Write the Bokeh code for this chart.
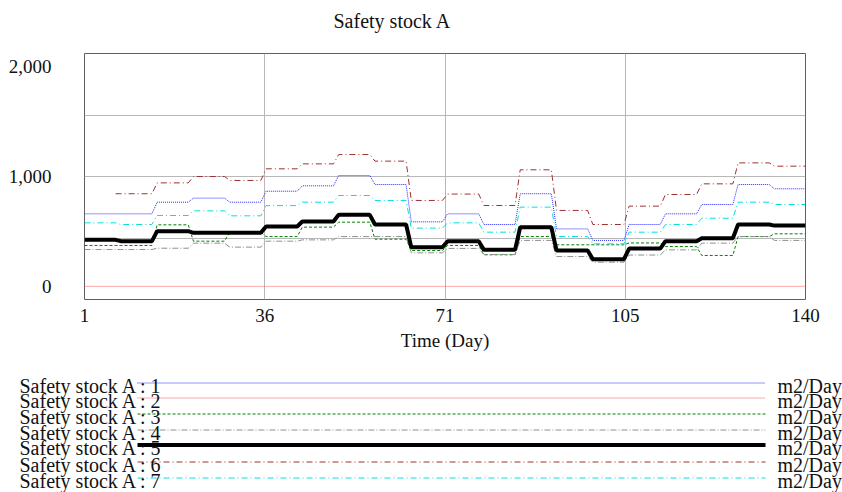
from bokeh.plotting import figure
from bokeh.models import Range1d, FixedTicker
from bokeh.embed import file_html
from bokeh.resources import INLINE
from bokeh.core.properties import value

FONT = "Liberation Serif"

# ---- data (weekly step values) ----
week_first_day = [1, 8, 15, 22, 29, 36, 43, 50, 57, 64, 71, 78, 85, 92, 99, 106, 113, 120, 127, 134]
week_last_day = [7, 14, 21, 28, 35, 42, 49, 56, 63, 70, 77, 84, 91, 98, 105, 112, 119, 126, 133, 140]

s1_blue = [660, 660, 766, 803, 766, 866, 915, 1009, 927, 587, 660, 563, 843, 523, 418, 563, 660, 745, 927, 888]
s2_red = [0, 0, 0, 0, 0, 0, 0, 0, 0, 0, 0, 0, 0, 0, 0, 0, 0, 0, 0, 0]
s3_green = [372, 372, 560, 411, 493, 453, 539, 584, 429, 326, 372, 287, 453, 378, 378, 395, 362, 281, 453, 478]
s4_grey = [335, 335, 347, 393, 357, 411, 423, 453, 453, 305, 345, 290, 418, 271, 220, 285, 332, 393, 453, 418]
s5_black = [423, 411, 502, 487, 487, 545, 590, 651, 563, 356, 411, 332, 538, 326, 247, 344, 411, 438, 563, 553]
s6_brown = [843, 843, 942, 1000, 964, 1070, 1115, 1200, 1140, 782, 840, 736, 1061, 691, 563, 730, 836, 933, 1124, 1094]
s7_cyan = [578, 563, 645, 687, 642, 735, 766, 827, 782, 530, 578, 493, 721, 453, 387, 493, 563, 620, 766, 745]

title_text = "Safety stock A"
series_names = ["Safety stock A : 1", "Safety stock A : 2", "Safety stock A : 3", "Safety stock A : 4",
                "Safety stock A : 5", "Safety stock A : 6", "Safety stock A : 7"]
series_values = [s1_blue, s2_red, s3_green, s4_grey, s5_black, s6_brown, s7_cyan]
series_start_day = [1, 1, 1, 1, 1, 7, 1]
series_unit = "m2/Day"

x_tick_values = [1, 35.75, 70.5, 105.25, 140]
x_tick_labels = ["1", "36", "71", "105", "140"]
y_tick_values = [0, 1000, 2000]
y_tick_labels = ["0", "1,000", "2,000"]
x_grid_values = [35.75, 70.5, 105.25]
y_grid_values = [440, 1000, 1560]

# ---- styles ----
colors = ["#2a2aff", "#ff5050", "#008000", "#909090", "#000000", "#a03030", "#00e0e0"]
widths = [1, 1, 1, 1, 4, 1, 1]
dashes = ["1 1", "1 1", "3 2", "6 2 1 2", "solid", "6 3 1 3", "6 3 1 3"]


def step_points(vals, start_day):
    xs, ys = [], []
    for f, l, v in zip(week_first_day, week_last_day, vals):
        xs += [max(f, start_day), l]
        ys += [v, v]
    return xs, ys


def blank_panel(h):
    f = figure(width=842, height=h, x_range=Range1d(0, 842), y_range=Range1d(h, 0),
               output_backend="svg", toolbar_location=None, min_border=0)
    f.axis.visible = False
    f.grid.visible = False
    f.outline_line_color = None
    return f


# ---- title panel ----
tp = blank_panel(36)
tp.text(x=[333], y=[20], text=[title_text], text_font=value(FONT), text_font_size="20px",
        text_baseline="alphabetic", text_color="#111111")

# ---- main chart ----
p = figure(width=842, height=324, x_range=Range1d(1, 140), y_range=Range1d(-120, 2120),
           output_backend="svg", toolbar_location=None,
           min_border_left=84, min_border_right=37, min_border_top=17, min_border_bottom=61)
p.title.visible = False

for vals, start, c, w, d in zip(series_values, series_start_day, colors, widths, dashes):
    xs, ys = step_points(vals, start)
    p.line(xs, ys, line_color=c, line_width=w, line_dash=d)

p.outline_line_color = "#606060"
p.outline_line_width = 1

for ax in (p.xaxis[0], p.yaxis[0]):
    ax.axis_line_color = None
    ax.major_tick_line_color = None
    ax.minor_tick_line_color = None
    ax.major_label_text_font = FONT
    ax.major_label_text_font_size = "19px"
    ax.major_label_text_color = "#111111"
    ax.axis_label_text_font = FONT
    ax.axis_label_text_font_size = "19px"
    ax.axis_label_text_font_style = "normal"
    ax.axis_label_text_color = "#111111"

p.xaxis.ticker = FixedTicker(ticks=x_tick_values)
p.xaxis.major_label_overrides = {v: t for v, t in zip(x_tick_values, x_tick_labels)}
p.xaxis.major_label_standoff = 3
p.xaxis.axis_label = "Time (Day)"
p.xaxis.axis_label_standoff = 5

p.yaxis.ticker = FixedTicker(ticks=y_tick_values)
p.yaxis.major_label_overrides = {v: t for v, t in zip(y_tick_values, y_tick_labels)}
p.yaxis.major_label_standoff = 27

p.xgrid.ticker = FixedTicker(ticks=x_grid_values)
p.ygrid.ticker = FixedTicker(ticks=y_grid_values)
p.grid.grid_line_color = "#b8b8b8"
p.grid.grid_line_width = 1

# ---- legend panel ----
lg = blank_panel(132)
row_y = [22, 37, 53, 69, 84, 101, 117]
for i, (c, w, d) in enumerate(zip(colors, widths, dashes)):
    lg.segment(x0=[137], y0=[row_y[i] + 0.5], x1=[765], y1=[row_y[i] + 0.5],
               line_color=c, line_width=w, line_dash=d)
lg.text(x=[19] * len(series_names), y=[y + 3 for y in row_y], text=series_names,
        text_font=value(FONT), text_font_size="20px", text_baseline="alphabetic", text_color="#111111")
lg.text(x=[777] * len(series_names), y=[y + 3 for y in row_y], text=[series_unit] * len(series_names),
        text_font=value(FONT), text_font_size="20px", text_baseline="alphabetic", text_color="#111111")

open("out.html", "w").write(file_html([tp, p, lg], INLINE))
